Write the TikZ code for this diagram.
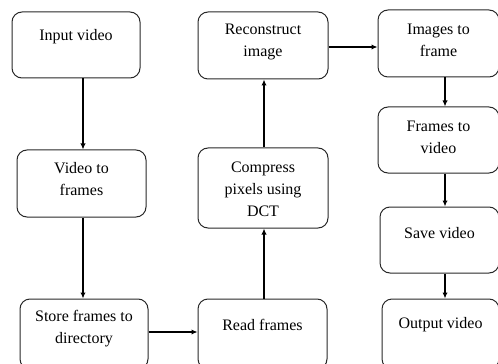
\documentclass[tikz,border=0pt]{standalone}
\usepackage{fontspec}
\setmainfont{Liberation Serif}
\usetikzlibrary{arrows.meta}

\tikzset{every picture/.style={line width=0.75pt}}
\tikzset{
  stepbox/.style={draw={rgb,255:red,40;green,40;blue,40}, rounded corners=7.5pt, inner sep=0pt},
  steptext/.style={align=center, font=\fontsize{12}{16.5}\selectfont, inner sep=0pt},
  flow/.style={line width=1pt, -{Latex[length=4.5pt,width=4pt]}}
}

\begin{document}
\begin{tikzpicture}[x=0.75pt,y=0.75pt,yscale=-1,xscale=1]
\useasboundingbox (0,0) rectangle (498,363);
\clip (0,0) rectangle (498,363);

%Rounded Rect - left column
\node [stepbox, minimum width=96pt, minimum height=49.5pt] (inp) at (76,45) {};
\node [stepbox, minimum width=96.75pt, minimum height=50.25pt] (vf) at (81.5,183.5) {};
\node [stepbox, minimum width=96pt, minimum height=52.5pt] (sf) at (84,334) {};
%Rounded Rect - middle column
\node [stepbox, minimum width=96.75pt, minimum height=52.5pt] (rf) at (262.5,334) {};
\node [stepbox, minimum width=97.5pt, minimum height=60pt] (cp) at (263,188) {};
\node [stepbox, minimum width=97.5pt, minimum height=50.25pt] (rc) at (263,45.5) {};
%Rounded Rect - right column
\node [stepbox, minimum width=90.75pt, minimum height=50.25pt] (im) at (438.5,43.5) {};
\node [stepbox, minimum width=90.75pt, minimum height=49.5pt] (fv) at (438.5,140) {};
\node [stepbox, minimum width=89.25pt, minimum height=49.5pt] (sv) at (439.5,240) {};
\node [stepbox, minimum width=87.75pt, minimum height=52.5pt] (ov) at (440.5,334) {};

% Text Node
\node [steptext] (inp-t) at (76,37) {Input video};
\node [steptext] (vf-t) at (81.5,179) {Video to\\frames};
\node [steptext] (sf-t) at (84,329) {Store frames to\\directory};
\node [steptext] (rf-t) at (262.5,325) {Read frames};
\node [steptext] (cp-t) at (263,189.5) {Compress\\pixels using\\DCT};
\node [steptext] (rc-t) at (263,42) {Reconstruct\\image};
\node [steptext] (im-t) at (438.5,40) {Images to\\frame};
\node [steptext] (fv-t) at (438.5,137) {Frames to\\video};
\node [steptext] (sv-t) at (439.5,233) {Save video};
\node [steptext] (ov-t) at (440.5,325) {Output video};

%Straight Lines
\coordinate (lx) at (83,0);
\coordinate (rx) at (445,0);
\draw [flow] (inp.south -| lx) -- (vf.north -| lx);
\draw [flow] (vf.south -| lx) -- (sf.north -| lx);
\draw [flow] (sf.east |- 0,332) -- (rf.west |- 0,332);
\draw [flow] (rf.north -| 264,0) -- (cp.south -| 264,0);
\draw [flow] (cp.north -| 264,0) -- (rc.south -| 264,0);
\draw [flow] (rc.east |- 0,47) -- (im.west |- 0,47);
\draw [flow] (im.south -| rx) -- (fv.north -| rx);
\draw [flow] (fv.south -| rx) -- (sv.north -| rx);
\draw [flow] (sv.south -| rx) -- (ov.north -| rx);

\end{tikzpicture}
\end{document}
